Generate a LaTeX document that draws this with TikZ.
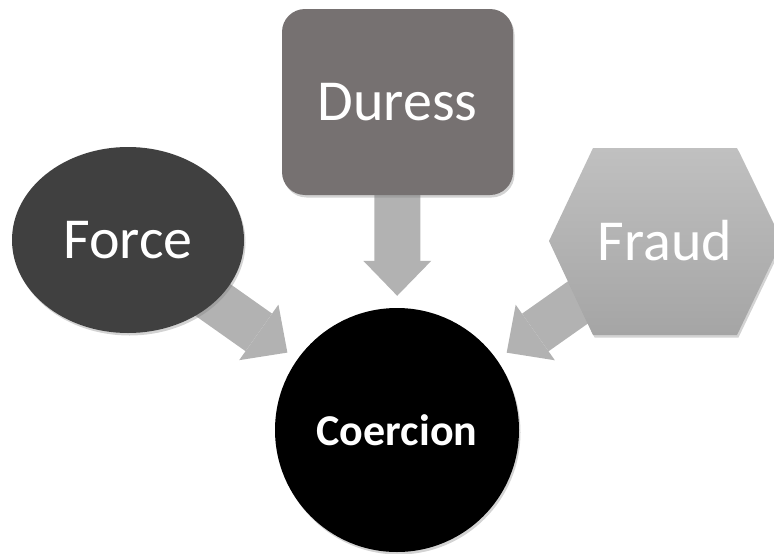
\documentclass[tikz,border=0pt]{standalone}
\usepackage{fontspec}
\setmainfont{Carlito}
\usetikzlibrary{shapes.geometric,arrows.meta,shadows,backgrounds}
\definecolor{forcegray}{HTML}{404040}
\definecolor{duressgray}{HTML}{767171}
\definecolor{fraudtop}{HTML}{C0C0C0}
\definecolor{fraudbot}{HTML}{A5A5A5}
\definecolor{arrowgray}{HTML}{B2B2B2}
\begin{document}
\begin{tikzpicture}[x=1pt,y=-1pt,
    shape shadow/.style={drop shadow={shadow xshift=1.5pt,shadow yshift=-2.5pt,opacity=.35}},
    big label/.style={text=white,font=\fontsize{58}{58}\selectfont},
    fat arrow/.style={draw=arrowgray,line width=46pt,-{Triangle[length=35pt,width=68pt,line width=0pt]},shorten >=12pt}]
  \useasboundingbox (0,0) rectangle (774,554);
  \node[ellipse,fill=forcegray,minimum width=232pt,minimum height=186pt,inner sep=0pt,shape shadow,big label] (force) at (128,240) {Force};
  \node[rectangle,rounded corners=23pt,fill=duressgray,minimum width=231pt,minimum height=186pt,shape shadow,big label] (duress) at (397.5,102) {Duress};
  % the hexagon is wider than it is high
  \shade[top color=fraudtop,bottom color=fraudbot,shape shadow] (665,241) ++(-116,0) -- ++(44,-93) -- ++(144,0) -- ++(45,93) -- ++(-45,94) -- ++(-144,0) -- cycle;
  \node[big label] (fraud) at (665,241) {Fraud};
  \node[circle,fill=black,minimum size=244pt,inner sep=0pt,shape shadow,text=white,font=\fontsize{44}{44}\selectfont\bfseries] (coercion) at (397,430) {Coercion};
  \begin{pgfonlayer}{background}
    \draw[fat arrow] (force.center) -- (coercion);
    \draw[fat arrow] (duress.center) -- (coercion);
    \draw[fat arrow] (fraud.center) -- (coercion);
  \end{pgfonlayer}
\end{tikzpicture}
\end{document}
